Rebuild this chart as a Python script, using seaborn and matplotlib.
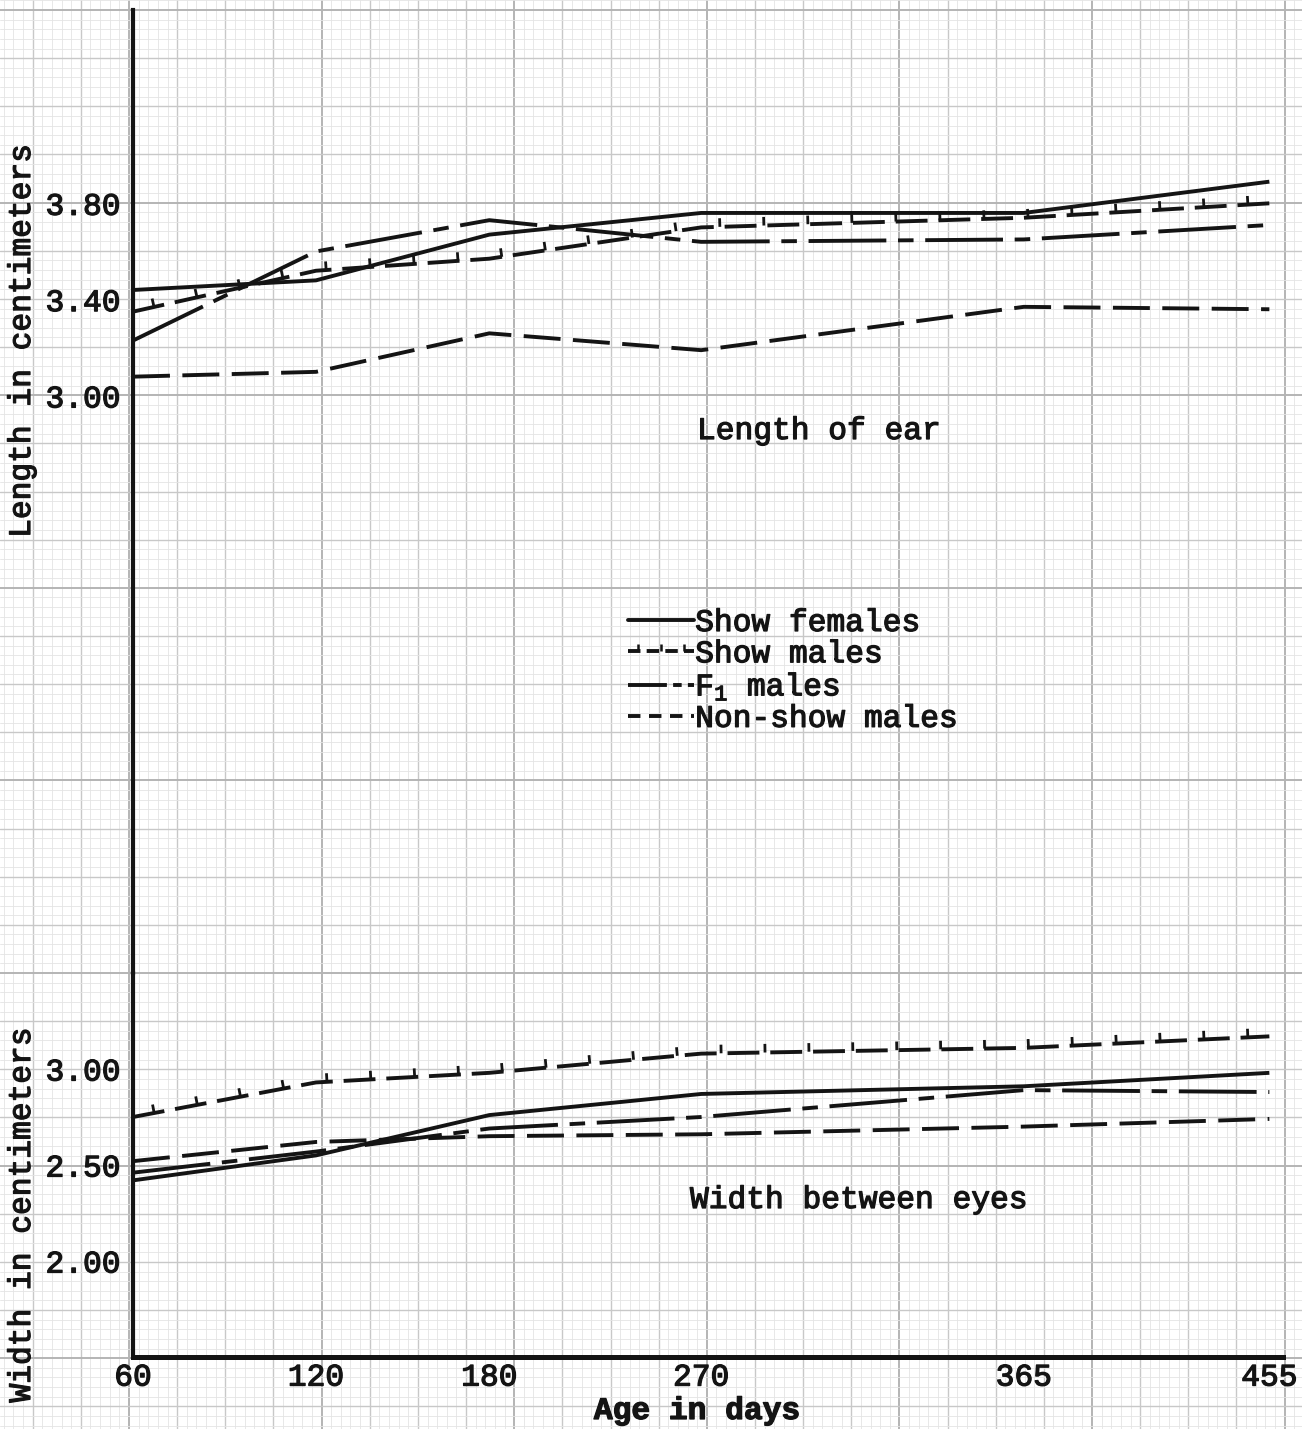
import numpy as np
import pandas as pd
import matplotlib
matplotlib.use("Agg")
import matplotlib.pyplot as plt
from matplotlib import patheffects as pe
from matplotlib.lines import Line2D
import seaborn as sns

# ---------------- data ----------------
age_days = [60, 120, 180, 270, 365, 455]
age_tick_labels = ["60", "120", "180", "270", "365", "455"]
groups = ["Show females", "Show males", "F$_1$ males", "Non-show males"]

ear_show_females = [3.44, 3.48, 3.67, 3.76, 3.76, 3.89]
ear_show_males = [3.35, 3.52, 3.57, 3.70, 3.74, 3.80]
ear_f1_males = [3.23, 3.60, 3.73, 3.64, 3.65, 3.71]
ear_nonshow_males = [3.08, 3.10, 3.26, 3.19, 3.37, 3.36]

eye_show_females = [2.42, 2.55, 2.76, 2.87, 2.91, 2.98]
eye_show_males = [2.75, 2.93, 2.98, 3.08, 3.11, 3.17]
eye_f1_males = [2.46, 2.57, 2.69, 2.75, 2.89, 2.88]
eye_nonshow_males = [2.52, 2.62, 2.65, 2.66, 2.70, 2.74]

ear_ticks = [3.00, 3.40, 3.80]
eye_ticks = [2.00, 2.50, 3.00]

# horizontal placement of each age on the original graph paper (in paper cells)
paper_cells = [0, 19, 37, 59, 92.5, 118]

# ---------------- style ----------------
sns.set_style("white")
plt.rcParams["font.family"] = ["Liberation Mono", "DejaVu Sans Mono"]
plt.rcParams["mathtext.fontset"] = "custom"
plt.rcParams["mathtext.rm"] = "Liberation Mono"
plt.rcParams["mathtext.it"] = "Liberation Mono"
plt.rcParams["mathtext.default"] = "regular"

INK = "#141414"
FS = 22.5
LW = 2.8
TXT_PE = [pe.withStroke(linewidth=0.9, foreground=INK)]

W, H = 1302, 1429
fig = plt.figure(figsize=(W / 100, H / 100), dpi=100)
fig.patch.set_facecolor("white")


def fx(px):
    return px / W


def fy(py):
    return 1 - py / H


# ---------------- graph paper background ----------------
bg = fig.add_axes([0, 0, 1, 1], zorder=0)
bg.set_xlim(0, W)
bg.set_ylim(H, 0)
bg.axis("off")
major = 192.6
minor = major / 20
for origin, n_max, is_vertical in [(129.0, W, True), (10.0, H, False)]:
    k0 = -int(origin // minor) - 1
    k1 = int((n_max - origin) // minor) + 2
    for k in range(k0, k1):
        p = origin + k * minor
        if p < 0 or p > n_max:
            continue
        if k % 20 == 0:
            c, lw = "#b4b4b4", 1.4
        elif k % 5 == 0:
            c, lw = "#c8c8c8", 1.0
        else:
            c, lw = "#e4e4e4", 0.6
        if is_vertical:
            bg.axvline(p, color=c, lw=lw, zorder=0)
        else:
            bg.axhline(p, color=c, lw=lw, zorder=0)


# ---------------- x scale as drawn on the paper ----------------
_xa = np.array(age_days, dtype=float)
_xc = np.array(paper_cells, dtype=float)


def _pw_linear(v, xp, fp):
    v = np.asarray(v, dtype=float)
    out = np.interp(v, xp, fp)
    sl = (fp[1] - fp[0]) / (xp[1] - xp[0])
    sr = (fp[-1] - fp[-2]) / (xp[-1] - xp[-2])
    out = np.where(v < xp[0], fp[0] + (v - xp[0]) * sl, out)
    out = np.where(v > xp[-1], fp[-1] + (v - xp[-1]) * sr, out)
    return out


def fwd(v):
    return _pw_linear(v, _xa, _xc)


def inv(v):
    return _pw_linear(v, _xc, _xa)


# ---------------- axes ----------------
left_px, right_px = 133, 1283
ax_top = fig.add_axes([fx(left_px), fy(973), fx(right_px) - fx(left_px), (973 - 10) / H],
                      facecolor="none", zorder=2)
ax_bot = fig.add_axes([fx(left_px), fy(1357), fx(right_px) - fx(left_px), (1357 - 973) / H],
                      facecolor="none", zorder=2)

dash_map = {
    "Show females": "",
    "Show males": (8.2, 2.8),
    "F$_1$ males": (20, 3, 4, 3),
    "Non-show males": (9.5, 3.2),
}


def long_df(vals):
    rows = []
    for g, series in zip(groups, vals):
        for a, v in zip(age_days, series):
            rows.append({"age": a, "value": v, "group": g})
    return pd.DataFrame(rows)


panels = [
    (ax_top, [ear_show_females, ear_show_males, ear_f1_males, ear_nonshow_males]),
    (ax_bot, [eye_show_females, eye_show_males, eye_f1_males, eye_nonshow_males]),
]

for ax, vals in panels:
    ax.set_xscale("function", functions=(fwd, inv))
    df = long_df(vals)
    sns.lineplot(data=df, x="age", y="value", hue="group", style="group",
                 hue_order=groups, style_order=groups,
                 palette=[INK] * 4, dashes=dash_map, linewidth=LW,
                 estimator=None, sort=False, legend=False, ax=ax)
    for ln in ax.lines:
        ln.set_solid_capstyle("butt")
        ln.set_dash_capstyle("butt")
    # show males: ticked dashed line
    ax.lines[1].set_path_effects([
        pe.TickedStroke(spacing=31, angle=90, length=0.2, linewidth=2.0),
        pe.Normal(),
    ])
    ax.set_xlim(60, 460)
    ax.set_xlabel("")
    ax.set_ylabel("")
    for s in ["top", "right"]:
        ax.spines[s].set_visible(False)
    ax.spines["left"].set_linewidth(3.0)
    ax.spines["left"].set_color(INK)
    ax.tick_params(axis="both", length=0, labelsize=FS, colors=INK)
    ax.tick_params(axis="y", pad=9)
    ax.grid(False)

ax_top.set_ylim(0.603, 4.603)
ax_bot.set_ylim(1.5, 3.5)

ax_top.spines["bottom"].set_visible(False)
ax_top.set_xticks([])
ax_top.set_yticks(ear_ticks)
ax_top.set_yticklabels([f"{t:.2f}" for t in ear_ticks])

ax_bot.spines["bottom"].set_linewidth(3.6)
ax_bot.spines["bottom"].set_color(INK)
ax_bot.set_yticks(eye_ticks)
ax_bot.set_yticklabels([f"{t:.2f}" for t in eye_ticks])
ax_bot.set_xticks(age_days)
ax_bot.set_xticklabels(age_tick_labels)
ax_bot.tick_params(axis="x", pad=4)

# axis labels
ax_top.set_ylabel("Length in centimeters", fontsize=FS, color=INK)
ax_top.yaxis.set_label_coords((22 - left_px) / (right_px - left_px), (973 - 341) / 963)
ax_bot.set_ylabel("Width in centimeters", fontsize=FS, color=INK)
ax_bot.yaxis.set_label_coords((22 - left_px) / (right_px - left_px), (1357 - 1215) / 384)
for lab in (ax_top.yaxis.label, ax_bot.yaxis.label):
    lab.set_va("center")
    lab.set_ha("center")
ax_bot.set_xlabel("Age in days", fontsize=FS, color=INK, fontweight="bold")
ax_bot.xaxis.set_label_coords((697 - left_px) / (right_px - left_px), (1357 - 1411) / 384)
ax_bot.xaxis.label.set_va("center")

# panel titles
fig.text(fx(697), fy(431), "Length of ear", fontsize=FS, color=INK, ha="left", va="center",
         path_effects=TXT_PE)
fig.text(fx(690), fy(1200), "Width between eyes", fontsize=FS, color=INK, ha="left", va="center",
         path_effects=TXT_PE)

# legend (proxy handles in the style of the hand-drawn key)
handles = [
    Line2D([], [], color=INK, lw=LW),
    Line2D([], [], color=INK, lw=LW, dashes=(3.2, 1.6),
           path_effects=[pe.TickedStroke(spacing=14, angle=90, length=0.4, linewidth=1.8),
                         pe.Normal()]),
    Line2D([], [], color=INK, lw=LW, dashes=(10, 1.6, 2.2, 1.6)),
    Line2D([], [], color=INK, lw=LW, dashes=(3.2, 2.2)),
]
leg = ax_top.legend(handles, groups, loc="upper left",
                    bbox_to_anchor=(fx(628), fy(608)), bbox_transform=fig.transFigure,
                    frameon=False, fontsize=FS, handlelength=2.1, handletextpad=0.05,
                    labelspacing=0.04, borderpad=0, borderaxespad=0)
for t in leg.get_texts():
    t.set_color(INK)

# heavier typewriter strokes for all text
texts = list(leg.get_texts()) + [ax_top.yaxis.label, ax_bot.yaxis.label, ax_bot.xaxis.label]
texts += ax_top.get_yticklabels() + ax_bot.get_yticklabels() + ax_bot.get_xticklabels()
for t in texts:
    t.set_path_effects(TXT_PE)

fig.savefig("out.png", dpi=100, facecolor="white")
